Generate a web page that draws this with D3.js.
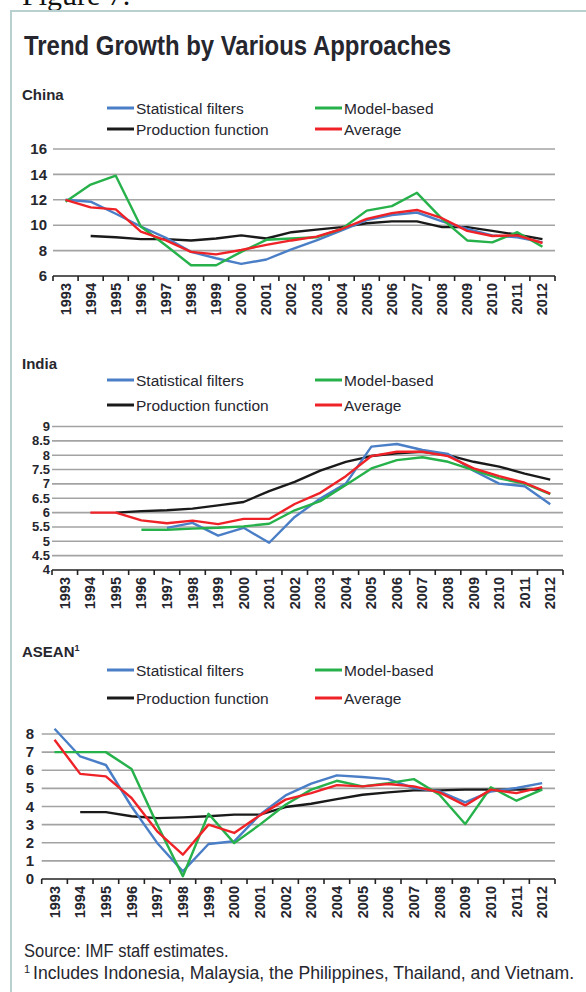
<!DOCTYPE html>
<html>
<head>
<meta charset="utf-8">
<script src="https://cdn.jsdelivr.net/npm/d3@7"></script>
<style>
  html, body { margin: 0; padding: 0; background: #fff; }
  svg { display: block; }
</style>
</head>
<body>
<svg id="chart" width="586" height="992"></svg>
<script>
// ---------------- DATA ----------------
const years = ["1993","1994","1995","1996","1997","1998","1999","2000","2001","2002",
               "2003","2004","2005","2006","2007","2008","2009","2010","2011","2012"];
const seriesNames = ["Statistical filters", "Model-based", "Production function", "Average"];

const chinaStat  = [12.0, 11.85, 10.9, 9.9, 9.0, 7.9, 7.4, 6.95, 7.3, 8.1, 8.8, 9.6, 10.4, 10.8, 11.0, 10.3, 9.7, 9.2, 9.05, 8.65];
const chinaModel = [11.85, 13.2, 13.9, 9.9, 8.4, 6.85, 6.85, 7.9, 8.85, 8.95, 9.05, 9.7, 11.15, 11.5, 12.55, 10.5, 8.8, 8.65, 9.45, 8.3];
const chinaProd  = [null, 9.15, 9.05, 8.9, 8.9, 8.8, 8.95, 9.2, 8.95, 9.45, 9.65, 9.85, 10.15, 10.3, 10.3, 9.85, 9.85, 9.55, 9.25, 8.9];
const chinaAvg   = [12.0, 11.4, 11.25, 9.5, 8.8, 7.9, 7.7, 8.05, 8.45, 8.8, 9.1, 9.7, 10.5, 10.95, 11.2, 10.55, 9.55, 9.15, 9.2, 8.6];

const indiaStat  = [null, null, null, null, 5.47, 5.64, 5.2, 5.47, 4.95, 5.85, 6.49, 7.01, 8.3, 8.39, 8.18, 8.04, 7.46, 7.01, 6.92, 6.29];
const indiaModel = [null, null, null, 5.4, 5.4, 5.44, 5.47, 5.52, 5.61, 6.08, 6.4, 6.96, 7.54, 7.83, 7.93, 7.77, 7.48, 7.19, 7.01, 6.64];
const indiaProd  = [null, null, 6.0, 6.05, 6.08, 6.14, 6.25, 6.37, 6.75, 7.07, 7.46, 7.77, 7.97, 8.07, 8.12, 8.0, 7.77, 7.6, 7.36, 7.15];
const indiaAvg   = [null, 6.0, 6.0, 5.73, 5.63, 5.72, 5.6, 5.78, 5.78, 6.3, 6.69, 7.27, 7.97, 8.12, 8.12, 7.97, 7.54, 7.27, 7.04, 6.66];

const aseanStat  = [8.29, 6.76, 6.29, 4.0, 1.99, 0.42, 1.93, 2.08, 3.55, 4.61, 5.26, 5.72, 5.63, 5.51, 5.02, 4.83, 4.23, 4.83, 5.02, 5.29];
const aseanModel = [7.0, 7.0, 7.0, 6.07, 3.0, 0.15, 3.6, 1.98, 3.0, 4.1, 4.93, 5.42, 5.11, 5.29, 5.51, 4.65, 3.03, 5.06, 4.32, 4.93];
const aseanProd  = [null, 3.69, 3.69, 3.46, 3.36, 3.4, 3.46, 3.55, 3.55, 3.97, 4.15, 4.41, 4.65, 4.78, 4.89, 4.89, 4.93, 4.93, 4.93, 4.93];
const aseanAvg   = [7.68, 5.8, 5.66, 4.47, 2.63, 1.34, 3.0, 2.54, 3.51, 4.38, 4.74, 5.18, 5.11, 5.24, 5.11, 4.78, 4.06, 4.93, 4.74, 5.07];

const chinaTicks = [6, 8, 10, 12, 14, 16];
const indiaTicks = [4, 4.5, 5, 5.5, 6, 6.5, 7, 7.5, 8, 8.5, 9];
const aseanTicks = [0, 1, 2, 3, 4, 5, 6, 7, 8];

// ---------------- STYLE / LAYOUT ----------------
const colors = {"Statistical filters": "#4a7ec6", "Model-based": "#26b14a", "Production function": "#1a1a1a", "Average": "#ee2227"};
const textColor = "#26262e";
const gridColor = "#a3a3a3";
const sans = "'Liberation Sans', Arial, sans-serif";

const panels = [
  { title: "China", sup: "", titleY: 100,
    series: [chinaStat, chinaModel, chinaProd, chinaAvg], ticks: chinaTicks,
    domain: [6, 16], yRange: [276, 149], xRange: [53, 555], labelX: 47, labelSize: 15, legendY: [108, 129] },
  { title: "India", sup: "", titleY: 369,
    series: [indiaStat, indiaModel, indiaProd, indiaAvg], ticks: indiaTicks,
    domain: [4, 9], yRange: [570, 426.5], xRange: [52, 563], labelX: 50, labelSize: 13, legendY: [380, 405] },
  { title: "ASEAN", sup: "1", titleY: 657,
    series: [aseanStat, aseanModel, aseanProd, aseanAvg], ticks: aseanTicks,
    domain: [0, 8], yRange: [879, 734], xRange: [41.7, 555], labelX: 34, labelSize: 15, legendY: [670, 698] }
];

const svg = d3.select("#chart");

// "Figure" heading, cut at the top edge as in the source
svg.append("text").attr("x", 22).attr("y", 5)
  .attr("font-family", "'Liberation Serif', serif").attr("font-size", 30)
  .attr("fill", "#111").text("Figure 7.");

// frame
svg.append("rect").attr("x", 11).attr("y", 11).attr("width", 600).attr("height", 1000)
  .attr("fill", "none").attr("stroke", "#b9d0d1").attr("stroke-width", 2);

// main title (condensed horizontally)
svg.append("text").attr("transform", "translate(24,55) scale(0.855,1)")
  .attr("font-family", sans)
  .attr("font-weight", "bold").attr("font-size", 28).attr("fill", textColor)
  .text("Trend Growth by Various Approaches");

panels.forEach(p => {
  const g = svg.append("g");
  const x = d3.scaleBand().domain(years).range(p.xRange);
  const y = d3.scaleLinear().domain(p.domain).range(p.yRange);

  // panel title
  const t = g.append("text").attr("x", 22).attr("y", p.titleY)
    .attr("font-family", sans).attr("font-weight", "bold")
    .attr("font-size", 15).attr("fill", textColor).text(p.title);
  if (p.sup) t.append("tspan").attr("font-size", 9).attr("dy", -6).text(p.sup);

  // legend
  const legendCols = [107, 315];
  const legendOrder = [[0, 0, 0], [1, 1, 0], [2, 0, 1], [3, 1, 1]]; // series idx, col, row
  legendOrder.forEach(([si, c, r]) => {
    const lx = legendCols[c], ly = p.legendY[r];
    g.append("line").attr("x1", lx).attr("x2", lx + 27).attr("y1", ly).attr("y2", ly)
      .attr("stroke", colors[seriesNames[si]]).attr("stroke-width", 3);
    g.append("text").attr("x", lx + 29).attr("y", ly + 5.5)
      .attr("font-family", sans).attr("font-size", 15.5)
      .attr("fill", textColor).text(seriesNames[si]);
  });

  // gridlines (the lowest value is the axis itself)
  g.selectAll(".grid").data(p.ticks.slice(1)).join("line")
    .attr("x1", p.xRange[0]).attr("x2", p.xRange[1])
    .attr("y1", d => y(d)).attr("y2", d => y(d))
    .attr("stroke", gridColor).attr("stroke-width", 1.6);

  // y labels
  g.selectAll(".ylab").data(p.ticks).join("text")
    .attr("x", p.labelX).attr("y", d => y(d) + p.labelSize * 0.34)
    .attr("text-anchor", "end")
    .attr("font-family", sans).attr("font-weight", "bold")
    .attr("font-size", p.labelSize).attr("fill", textColor)
    .text(d => d);

  // x axis line + ticks at band boundaries
  const y0 = y(p.domain[0]);
  g.append("line").attr("x1", p.xRange[0]).attr("x2", p.xRange[1]).attr("y1", y0).attr("y2", y0)
    .attr("stroke", "#222").attr("stroke-width", 1.6);
  const bounds = years.map(d => x(d)).concat([x(years[years.length - 1]) + x.step()]);
  g.selectAll(".tick").data(bounds).join("line")
    .attr("x1", d => d).attr("x2", d => d).attr("y1", y0).attr("y2", y0 + 5)
    .attr("stroke", "#222").attr("stroke-width", 1.6);

  // year labels
  g.selectAll(".xlab").data(years).join("text")
    .attr("transform", d => `translate(${x(d) + x.bandwidth() / 2 + 5},${y0 + 7}) rotate(-90)`)
    .attr("text-anchor", "end")
    .attr("font-family", sans).attr("font-weight", "bold")
    .attr("font-size", 14.5).attr("fill", textColor)
    .text(d => d);

  // lines: draw order prod, stat, model, avg
  const line = d3.line()
    .defined(d => d.v != null)
    .x(d => x(d.year) + x.bandwidth() / 2)
    .y(d => y(d.v));
  [2, 0, 1, 3].forEach(si => {
    const data = years.map((yr, i) => ({ year: yr, v: p.series[si][i] }));
    g.append("path").datum(data).attr("d", line)
      .attr("fill", "none").attr("stroke", colors[seriesNames[si]])
      .attr("stroke-width", 2.4).attr("stroke-linejoin", "round");
  });
});

// footer (condensed horizontally)
const foot = svg.append("g")
  .attr("font-family", sans).attr("font-size", 18.5).attr("fill", textColor);
foot.append("text").attr("transform", "translate(24,957) scale(0.89,1)")
  .text("Source: IMF staff estimates.");
foot.append("text").attr("x", 24).attr("y", 973).attr("font-size", 11).text("1");
foot.append("text").attr("transform", "translate(33,979) scale(0.953,1)")
  .text("Includes Indonesia, Malaysia, the Philippines, Thailand, and Vietnam.");
</script>
</body>
</html>
